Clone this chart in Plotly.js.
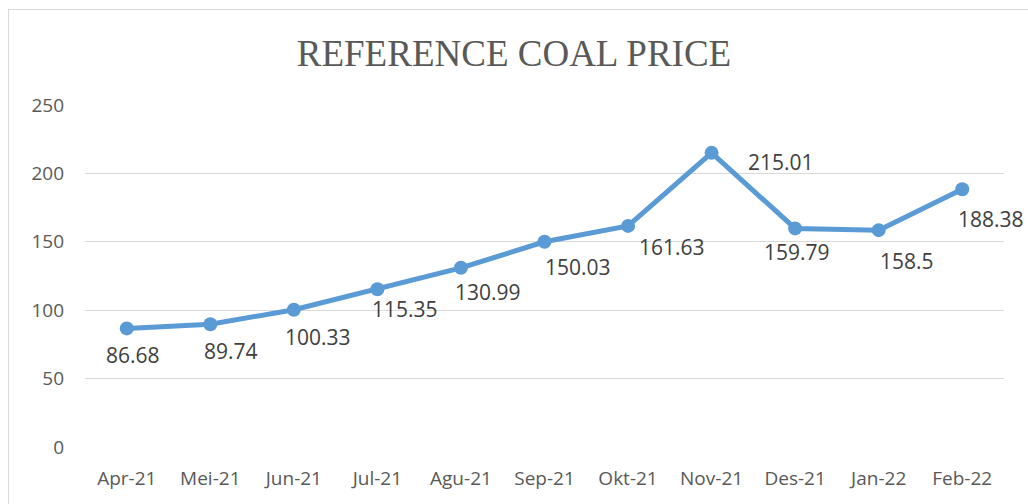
<!DOCTYPE html>
<html>
<head>
<meta charset="utf-8">
<script src="https://cdn.plot.ly/plotly-3.0.1.min.js"></script>
<style>
  html, body { margin: 0; padding: 0; background: #fff; }
  #wrap { position: relative; width: 1028px; height: 504px; overflow: hidden; }
  #chart { position: absolute; left: 0; top: 0; width: 1028px; height: 504px; }
  #frame { position: absolute; left: 8px; top: 9px; width: 1040px; height: 520px;
           border: 1px solid #d9d9d9; pointer-events: none; }
</style>
</head>
<body>
<div id="wrap">
  <div id="chart"></div>
  <div id="frame"></div>
</div>
<script>
const months = ["Apr-21","Mei-21","Jun-21","Jul-21","Agu-21","Sep-21","Okt-21","Nov-21","Des-21","Jan-22","Feb-22"];
const prices = [86.68, 89.74, 100.33, 115.35, 130.99, 150.03, 161.63, 215.01, 159.79, 158.5, 188.38];
const yTicks = [0, 50, 100, 150, 200, 250];

// label offsets (pixels) relative to each point, matching the reference placement
const labelDx = [6, 21, 24, 28, 27, 33, 44, 69, 2, 28, 29];
const labelDy = [27, 27, 27, 20, 24, 25, 21, 9, 24, 31, 30];

const lineColor = "#5b9bd5";

const trace = {
  type: "scatter",
  mode: "lines+markers",
  x: months,
  y: prices,
  line: { color: lineColor, width: 5 },
  marker: { color: lineColor, size: 14 },
  hoverinfo: "x+y",
  cliponaxis: false
};

const annotations = months.map((m, i) => ({
  x: m,
  y: prices[i],
  xref: "x",
  yref: "y",
  text: String(prices[i]),
  showarrow: false,
  xshift: labelDx[i],
  yshift: -labelDy[i],
  xanchor: "center",
  yanchor: "middle",
  font: { family: "Open Sans, sans-serif", size: 21, color: "#404040" }
}));

const layout = {
  width: 1028,
  height: 504,
  margin: { l: 85, r: 24, t: 105, b: 57 },
  paper_bgcolor: "#ffffff",
  plot_bgcolor: "#ffffff",
  showlegend: false,
  title: {
    text: "REFERENCE COAL PRICE",
    font: { family: "Liberation Serif, Times New Roman, serif", size: 37, color: "#595959" },
    x: 0.5,
    xanchor: "center",
    y: 0.895,
    yanchor: "middle"
  },
  xaxis: {
    type: "category",
    range: [-0.5, months.length - 0.5],
    showgrid: false,
    zeroline: false,
    showline: false,
    ticks: "outside",
    ticklen: 14,
    tickcolor: "rgba(0,0,0,0)",
    tickfont: { family: "Open Sans, sans-serif", size: 19, color: "#595959" },
    fixedrange: true
  },
  yaxis: {
    range: [0, 250],
    tickvals: yTicks,
    ticktext: yTicks.map(String),
    showgrid: true,
    gridcolor: "#d9d9d9",
    gridwidth: 1,
    zeroline: false,
    showline: false,
    ticks: "",
    ticklabelstandoff: 20,
    tickfont: { family: "Open Sans, sans-serif", size: 19, color: "#595959" },
    fixedrange: true
  },
  annotations: annotations
};

Plotly.newPlot("chart", [trace], layout, { displayModeBar: false, staticPlot: true });
</script>
</body>
</html>
